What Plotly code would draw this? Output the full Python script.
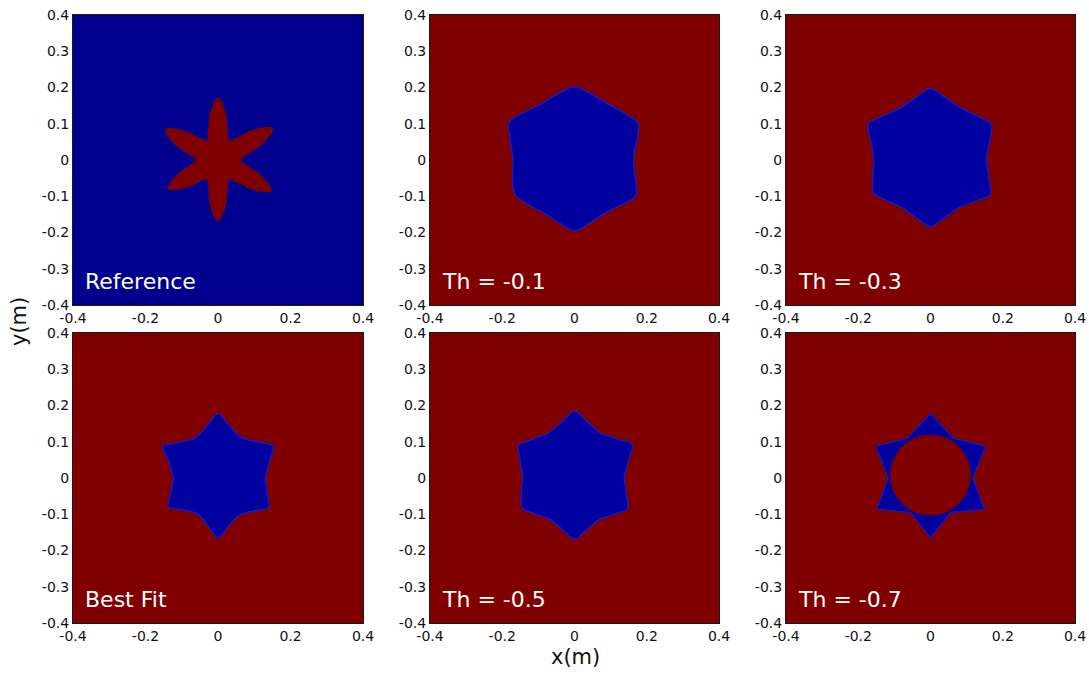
import numpy as np
import plotly.graph_objects as go

# ---------------- data ----------------
# sample angles (degrees) for the polar boundary of each region
ANGLES_DEG = [0, 10, 20, 30, 40, 50, 60, 70, 80, 90, 100, 110,
              120, 130, 140, 150, 160, 170, 180, 190, 200, 210, 220, 230,
              240, 250, 260, 270, 280, 290, 300, 310, 320, 330, 340, 350]

# boundary radius (m) at each angle
R_REFERENCE = [0.060, 0.076, 0.127, 0.174, 0.127, 0.076,
               0.060, 0.076, 0.125, 0.170, 0.125, 0.076,
               0.060, 0.076, 0.123, 0.167, 0.123, 0.075,
               0.059, 0.074, 0.118, 0.158, 0.118, 0.074,
               0.059, 0.075, 0.123, 0.167, 0.123, 0.076,
               0.060, 0.076, 0.124, 0.169, 0.124, 0.076]

R_TH_01 = [0.164, 0.169, 0.186, 0.203, 0.192, 0.184,
           0.180, 0.184, 0.192, 0.202, 0.192, 0.184,
           0.180, 0.185, 0.196, 0.209, 0.191, 0.177,
           0.170, 0.174, 0.182, 0.190, 0.181, 0.173,
           0.169, 0.173, 0.183, 0.195, 0.183, 0.173,
           0.169, 0.173, 0.184, 0.196, 0.181, 0.168]

R_TH_03 = [0.155, 0.161, 0.176, 0.194, 0.181, 0.171,
           0.166, 0.171, 0.182, 0.197, 0.182, 0.171,
           0.166, 0.171, 0.183, 0.199, 0.178, 0.163,
           0.157, 0.161, 0.170, 0.182, 0.168, 0.158,
           0.153, 0.158, 0.169, 0.184, 0.169, 0.158,
           0.153, 0.159, 0.172, 0.191, 0.173, 0.161]

R_BEST_FIT = [0.131, 0.138, 0.153, 0.176, 0.152, 0.136,
              0.129, 0.136, 0.152, 0.177, 0.151, 0.134,
              0.127, 0.134, 0.150, 0.175, 0.147, 0.131,
              0.123, 0.129, 0.140, 0.158, 0.135, 0.120,
              0.114, 0.121, 0.139, 0.165, 0.140, 0.124,
              0.118, 0.124, 0.139, 0.161, 0.145, 0.135]

R_TH_05 = [0.138, 0.145, 0.161, 0.185, 0.164, 0.150,
           0.143, 0.150, 0.164, 0.185, 0.164, 0.150,
           0.143, 0.149, 0.161, 0.179, 0.161, 0.149,
           0.143, 0.148, 0.156, 0.167, 0.150, 0.138,
           0.133, 0.139, 0.151, 0.169, 0.151, 0.139,
           0.133, 0.139, 0.152, 0.170, 0.154, 0.143]

# Th = -0.7: sharp six-pointed star with a red disc in the middle
STAR_ANGLES_DEG = [0, 30, 60, 90, 120, 150, 180, 210, 240, 270, 300, 330]
STAR_R_TH_07 = [0.117, 0.176, 0.127, 0.178, 0.127, 0.175,
                0.117, 0.171, 0.110, 0.165, 0.110, 0.172]
HOLE_CENTER_TH_07 = (0.0, 0.008)
HOLE_RADIUS_TH_07 = 0.110

PANEL_LABELS = ["Reference", "Th = -0.1", "Th = -0.3",
                "Best Fit", "Th = -0.5", "Th = -0.7"]

Y_TICKS = [-0.4, -0.3, -0.2, -0.1, 0, 0.1, 0.2, 0.3, 0.4]
Y_TICK_TEXT = ["-0.4", "-0.3", "-0.2", "-0.1", "0", "0.1", "0.2", "0.3", "0.4"]
X_TICKS = [-0.4, -0.2, 0, 0.2, 0.4]
X_TICK_TEXT = ["-0.4", "-0.2", "0", "0.2", "0.4"]

# ---------------- styling ----------------
RED = "#800000"
BLUE_BG = "#00008F"
BLUE_SHAPE = "#00009E"
BLUE_RIM = "#1A1AB8"

W, H = 1089, 674
# panel edges in window pixels
COL_PX = [(73, 363), (430, 719), (786, 1075)]
ROW_PX = [(15, 305), (333, 623)]


def fx(p):
    return p / W


def fy(p):
    return 1 - p / H


def polar_to_xy(angles_deg, radii, center=(0.0, 0.0)):
    a = np.deg2rad(np.asarray(angles_deg, dtype=float))
    r = np.asarray(radii, dtype=float)
    x = center[0] + r * np.cos(a)
    y = center[1] + r * np.sin(a)
    return np.append(x, x[0]), np.append(y, y[0])


fig = go.Figure()
layout_axes = {}
annotations = []
shapes = []

smooth_regions = [R_REFERENCE, R_TH_01, R_TH_03, R_BEST_FIT, R_TH_05, None]

for i in range(6):
    idx = i + 1
    row, col = divmod(i, 3)
    xs = "x" if idx == 1 else f"x{idx}"
    ys = "y" if idx == 1 else f"y{idx}"
    x0p, x1p = COL_PX[col]
    y0p, y1p = ROW_PX[row]
    xdom = [fx(x0p), fx(x1p)]
    ydom = [fy(y1p), fy(y0p)]
    common = dict(range=[-0.4, 0.4], showgrid=False, zeroline=False,
                  showline=True, mirror=True, linecolor="#1a1a1a", linewidth=1,
                  ticks="", fixedrange=True, automargin=False,
                  ticklabeloverflow="allow",
                  tickfont=dict(family="DejaVu Sans", size=14, color="#111"))
    layout_axes["xaxis" if idx == 1 else f"xaxis{idx}"] = dict(
        domain=xdom, anchor=ys, tickvals=X_TICKS, ticktext=X_TICK_TEXT, **common)
    layout_axes["yaxis" if idx == 1 else f"yaxis{idx}"] = dict(
        domain=ydom, anchor=xs, tickvals=Y_TICKS, ticktext=Y_TICK_TEXT, **common)

    if idx == 1:
        shapes.append(dict(type="rect", xref=f"{xs} domain", yref=f"{ys} domain",
                           x0=0, x1=1, y0=0, y1=1, fillcolor=BLUE_BG,
                           line=dict(width=0), layer="below"))
        px, py = polar_to_xy(ANGLES_DEG, R_REFERENCE)
        fig.add_trace(go.Scatter(x=px, y=py, mode="lines", fill="toself",
                                 fillcolor=RED,
                                 line=dict(color="#7a0408", width=1.2, shape="spline", smoothing=1),
                                 xaxis=xs, yaxis=ys, hoverinfo="skip", showlegend=False))
    elif idx < 6:
        px, py = polar_to_xy(ANGLES_DEG, smooth_regions[i])
        fig.add_trace(go.Scatter(x=px, y=py, mode="lines", fill="toself",
                                 fillcolor=BLUE_SHAPE,
                                 line=dict(color=BLUE_RIM, width=1.5, shape="spline", smoothing=1),
                                 xaxis=xs, yaxis=ys, hoverinfo="skip", showlegend=False))
    else:
        px, py = polar_to_xy(STAR_ANGLES_DEG, STAR_R_TH_07)
        fig.add_trace(go.Scatter(x=px, y=py, mode="lines", fill="toself",
                                 fillcolor=BLUE_SHAPE,
                                 line=dict(color=BLUE_RIM, width=1.2, shape="linear"),
                                 xaxis=xs, yaxis=ys, hoverinfo="skip", showlegend=False))
        hx, hy = polar_to_xy(ANGLES_DEG, [HOLE_RADIUS_TH_07] * len(ANGLES_DEG),
                             center=HOLE_CENTER_TH_07)
        fig.add_trace(go.Scatter(x=hx, y=hy, mode="lines", fill="toself",
                                 fillcolor=RED,
                                 line=dict(color=RED, width=1, shape="spline", smoothing=1),
                                 xaxis=xs, yaxis=ys, hoverinfo="skip", showlegend=False))

    annotations.append(dict(text=PANEL_LABELS[i], xref=f"{xs} domain", yref=f"{ys} domain",
                            x=0.035, y=0.03, xanchor="left", yanchor="bottom",
                            showarrow=False,
                            font=dict(family="DejaVu Sans", size=22, color="white")))

annotations.append(dict(text="x(m)", xref="paper", yref="paper",
                        x=fx(575), y=fy(657), xanchor="center", yanchor="middle",
                        showarrow=False, font=dict(family="DejaVu Sans", size=21, color="#111")))
annotations.append(dict(text="y(m)", xref="paper", yref="paper",
                        x=fx(19), y=fy(322), xanchor="center", yanchor="middle",
                        textangle=-90, showarrow=False,
                        font=dict(family="DejaVu Sans", size=21, color="#111")))

fig.update_layout(width=W, height=H, margin=dict(l=0, r=0, t=0, b=0, autoexpand=False),
                  paper_bgcolor="white", plot_bgcolor=RED,
                  annotations=annotations, shapes=shapes, showlegend=False,
                  hovermode=False, **layout_axes)

fig.write_html("out.html",
               config={"displayModeBar": False, "staticPlot": True},
               post_script="document.body.style.margin='0';document.body.style.overflow='hidden';")
